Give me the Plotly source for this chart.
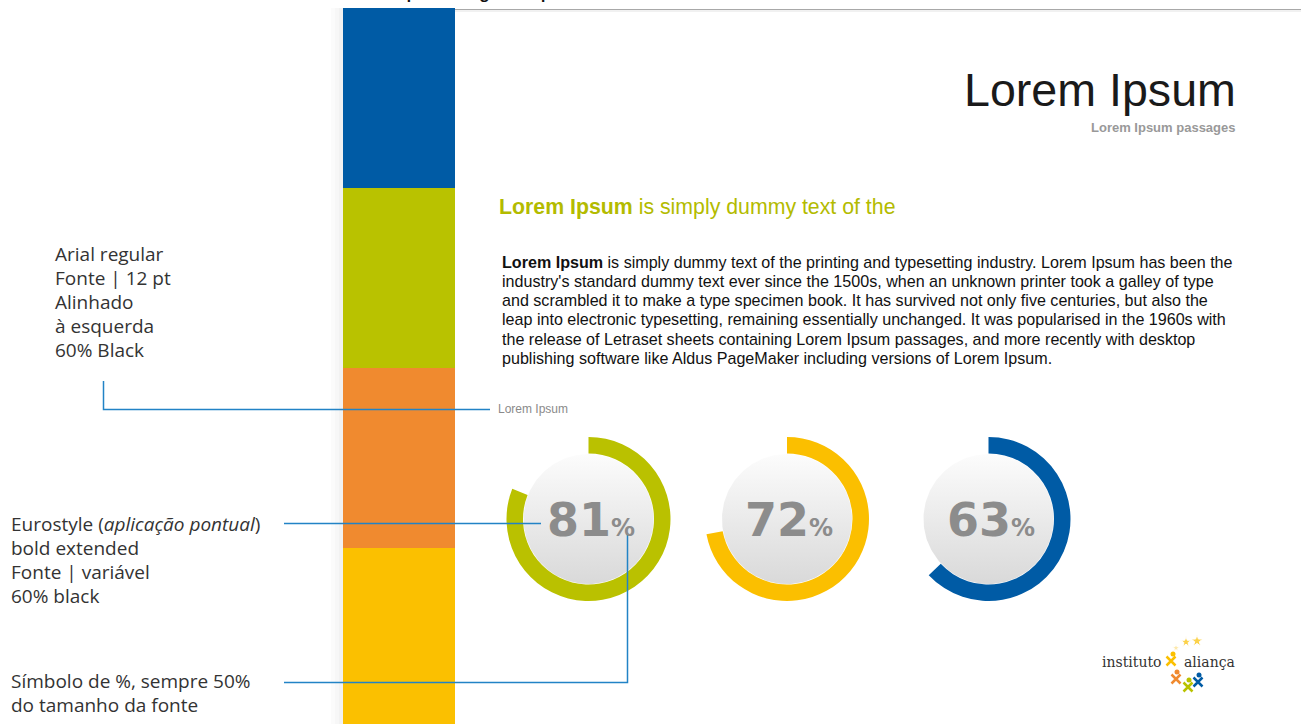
import numpy as np
import plotly.graph_objects as go

W, H = 1301, 724

# ---- data ----
pct_values = [81, 72, 63]
pct_colors = ["#bac100", "#fbbf00", "#005ba5"]
band_colors = ["#005ba5", "#b9c200", "#f08a2f", "#fbc000"]

title = "Lorem Ipsum"
subtitle = "Lorem Ipsum passages"
heading_bold = "Lorem Ipsum"
heading_rest = " is simply dummy text of the"
para_lines = [
    "<b>Lorem Ipsum</b> is simply dummy text of the printing and typesetting industry. Lorem Ipsum has been the",
    "industry's standard dummy text ever since the 1500s, when an unknown printer took a galley of type",
    "and scrambled it to make a type specimen book. It has survived not only five centuries, but also the",
    "leap into electronic typesetting, remaining essentially unchanged. It was popularised in the 1960s with",
    "the release of Letraset sheets containing Lorem Ipsum passages, and more recently with desktop",
    "publishing software like Aldus PageMaker including versions of Lorem Ipsum.",
]
left_block1 = ["Arial regular", "Fonte | 12 pt", "Alinhado", "à esquerda", "60% Black"]
left_block2 = ["Eurostyle (<i>aplicação pontual</i>)", "bold extended", "Fonte | variável", "60% black"]
left_block3 = ["Símbolo de %, sempre 50%", "do tamanho da fonte"]
small_label = "Lorem Ipsum"
top_cut = "Interna | Texto + gráfico | Uma coluna"

# ---- layout constants ----
ring_cx = [588.5, 787, 988.5]
ring_cy = 519
R_out, R_in = 82, 65.5
LINE_BLUE = "#2283c6"

fig = go.Figure()

# gray gradient inner discs
t = np.linspace(0, 2 * np.pi, 200)
for cx in ring_cx:
    fig.add_trace(go.Scatter(
        x=cx + (R_in - 0.5) * np.cos(t), y=ring_cy + (R_in - 0.5) * np.sin(t),
        mode="lines", line=dict(width=0, color="rgba(0,0,0,0)"), fill="toself",
        fillgradient=dict(type="vertical", colorscale=[[0, "#d9d9d9"], [1, "#fcfcfc"]]),
        hoverinfo="skip", showlegend=False))

# donut rings
for cx, v, c in zip(ring_cx, pct_values, pct_colors):
    fig.add_trace(go.Pie(
        values=[v, 100 - v], marker=dict(colors=[c, "rgba(0,0,0,0)"], line=dict(width=0)),
        hole=R_in / R_out, sort=False, direction="clockwise", rotation=0,
        textinfo="none", hoverinfo="skip", showlegend=False,
        domain=dict(x=[(cx - R_out) / W, (cx + R_out) / W],
                    y=[1 - (ring_cy + R_out) / H, 1 - (ring_cy - R_out) / H])))

# logo markers
fig.add_trace(go.Scatter(x=[1176, 1186, 1197], y=[648, 642, 641], mode="markers",
                         marker=dict(symbol="star", size=[6, 8, 9], color=["#fde08a", "#fbc000", "#fbc000"]),
                         hoverinfo="skip", showlegend=False))
fig.add_trace(go.Scatter(x=[1171, 1176, 1188, 1198], y=[661, 679, 687, 682], mode="markers",
                         marker=dict(symbol="x-thin", size=9, line=dict(width=2.5, color=["#fbc000", "#f08a2f", "#b9c200", "#005ba5"])),
                         hoverinfo="skip", showlegend=False))
fig.add_trace(go.Scatter(x=[1173, 1177, 1189, 1199], y=[654, 672, 680, 675], mode="markers",
                         marker=dict(symbol="circle", size=5, color=["#fbc000", "#f08a2f", "#b9c200", "#005ba5"]),
                         hoverinfo="skip", showlegend=False))

shapes = []
# left shadow of band
for i, col in enumerate(["#fbfbfb", "#f7f7f7", "#f2f2f2"]):
    shapes.append(dict(type="rect", x0=331 + i * 4, x1=343, y0=8, y1=H, fillcolor=col, line_width=0, layer="below"))
# colour bands
for i, col in enumerate(band_colors):
    shapes.append(dict(type="rect", x0=343, x1=455, y0=8 + i * 180, y1=8 + (i + 1) * 180 if i < 3 else H,
                       fillcolor=col, line_width=0, layer="below"))
# top rule
shapes.append(dict(type="line", x0=455, x1=W, y0=9.5, y1=9.5, line=dict(color="#a8a8a8", width=1.2)))
shapes.append(dict(type="line", x0=455, x1=W, y0=11, y1=11, line=dict(color="#ececec", width=1.5)))
# callout lines
shapes.append(dict(type="path", path="M 103.5 381 L 103.5 409.5 L 490 409.5",
                   line=dict(color=LINE_BLUE, width=1.5), layer="above"))
shapes.append(dict(type="line", x0=284, x1=541, y0=523.5, y1=523.5, line=dict(color=LINE_BLUE, width=1.5), layer="above"))
shapes.append(dict(type="path", path="M 284 682.5 L 627.5 682.5 L 627.5 533",
                   line=dict(color=LINE_BLUE, width=1.5), layer="above"))

ann = []
def add_text(x, y, text, size, color, family, xanchor="left", yanchor="middle"):
    ann.append(dict(x=x, y=y, xref="x", yref="y", text=text, showarrow=False,
                    xanchor=xanchor, yanchor=yanchor,
                    font=dict(size=size, color=color, family=family)))

ARIAL = "Liberation Sans, Arial, sans-serif"
MYRIAD = "Open Sans, Noto Sans, sans-serif"

# cut-off page header (partly above the page edge)
ann.append(dict(x=343 / W, y=1 + 7 / H, xref="paper", yref="paper", text="<b>" + top_cut + "</b>",
                showarrow=False, xanchor="left", yanchor="middle",
                font=dict(size=17, color="#111111", family=ARIAL)))
add_text(1238, 90, title, 46.6, "#1a1a1a", ARIAL, xanchor="right")
add_text(1238, 127, "<b>" + subtitle + "</b>", 13, "#999999", ARIAL, xanchor="right")
add_text(497, 207, "<b>" + heading_bold + "</b>" + heading_rest, 21.3, "#b3bb00", ARIAL)
for i, ln in enumerate(para_lines):
    add_text(500, 261.5 + i * 19.3, ln, 16.1, "#111111", ARIAL)
add_text(496, 409, small_label, 12, "#8a8a8a", ARIAL)

for i, ln in enumerate(left_block1):
    add_text(53, 254 + i * 24, ln, 19, "#333333", MYRIAD)
for i, ln in enumerate(left_block2):
    add_text(9, 524 + i * 24, ln, 19, "#333333", MYRIAD)
for i, ln in enumerate(left_block3):
    add_text(9, 681 + i * 24, ln, 19, "#333333", MYRIAD)

for cx, v in zip(ring_cx, pct_values):
    add_text(cx + 2, ring_cy + 1,
             "<b>%d</b><span style='font-size:24px'><b>%%</b></span>" % v,
             46, "#8c8c8c", "DejaVu Sans, sans-serif", xanchor="center")

add_text(1131, 662, "instituto", 14, "#333333", "DejaVu Serif, serif", xanchor="center")
add_text(1209, 662, "aliança", 14, "#333333", "DejaVu Serif, serif", xanchor="center")

fig.update_layout(
    width=W, height=H, margin=dict(l=0, r=0, t=0, b=0),
    paper_bgcolor="white", plot_bgcolor="white",
    xaxis=dict(range=[0, W], visible=False, fixedrange=True),
    yaxis=dict(range=[H, 0], visible=False, fixedrange=True),
    shapes=shapes, annotations=ann, showlegend=False,
)
fig.write_html("out.html", config={"displayModeBar": False},
               post_script="document.body.style.margin='0';")
